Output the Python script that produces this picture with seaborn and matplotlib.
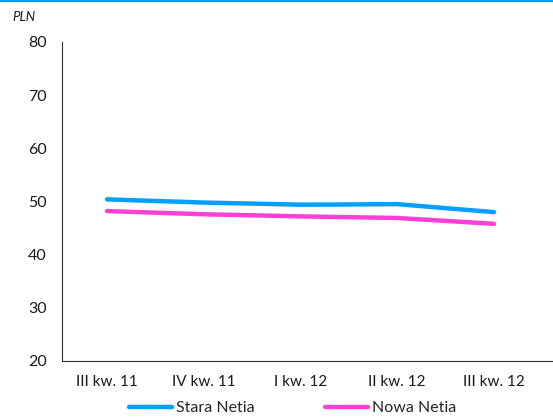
import matplotlib
matplotlib.use("Agg")
import matplotlib.pyplot as plt
import matplotlib.lines as mlines
import pandas as pd
import seaborn as sns

# Quarterly values in PLN
quarters = ["III kw. 11", "IV kw. 11", "I kw. 12", "II kw. 12", "III kw. 12"]
stara_netia = [50.4, 49.8, 49.4, 49.5, 48.0]
nowa_netia = [48.2, 47.6, 47.2, 46.9, 45.8]
series_names = ["Stara Netia", "Nowa Netia"]
y_ticks = [20, 30, 40, 50, 60, 70, 80]

blue = "#00A0FF"
pink = "#FF40D6"

sns.set_theme(style="white")
plt.rcParams["font.family"] = ["Lato", "DejaVu Sans"]

df = pd.DataFrame({
    "pos": list(range(len(quarters))) * 2,
    "value": stara_netia + nowa_netia,
    "series": [series_names[0]] * len(quarters) + [series_names[1]] * len(quarters),
})

fig = plt.figure(figsize=(5.53, 4.17), dpi=100)
ax = fig.add_axes([0.1121, 0.1343, 0.8879, 0.765])

sns.lineplot(data=df, x="pos", y="value", hue="series",
             palette={series_names[0]: blue, series_names[1]: pink},
             linewidth=3.2, ax=ax, legend=False, solid_capstyle="round")

ax.set_xlim(-0.465, 4.61)
ax.set_ylim(20, 80)
ax.set_yticks(y_ticks)
ax.set_yticklabels([str(v) for v in y_ticks], fontsize=11.5, color="#1a1a1a")
ax.set_xticks(range(len(quarters)))
ax.set_xticklabels(quarters, fontsize=11, color="#1a1a1a")
ax.tick_params(axis="y", length=0, pad=11)
ax.tick_params(axis="x", length=0, pad=10)
ax.set_xlabel("")
ax.set_ylabel("")

for side in ["top", "right"]:
    ax.spines[side].set_visible(False)
for side in ["left", "bottom"]:
    ax.spines[side].set_color("#333333")
    ax.spines[side].set_linewidth(0.8)

# unit label above the value axis
fig.text(12 / 553, 1 - 17 / 417, "PLN", fontsize=9.5, style="italic",
         va="center", ha="left", color="#1a1a1a")

# thin accent rule along the top edge
fig.add_artist(mlines.Line2D([0, 1], [0.9985, 0.9985], color=blue, lw=1.5,
                             transform=fig.transFigure))

handles = [mlines.Line2D([], [], color=blue, lw=3.2, solid_capstyle="round"),
           mlines.Line2D([], [], color=pink, lw=3.2, solid_capstyle="round")]
fig.legend(handles, series_names, loc="center", ncol=2,
           bbox_to_anchor=(293 / 553, 1 - 408 / 417), frameon=False,
           fontsize=11.5, handlelength=2.7, handletextpad=0.25,
           columnspacing=4.4, borderaxespad=0)

fig.savefig("out.png", dpi=100)
